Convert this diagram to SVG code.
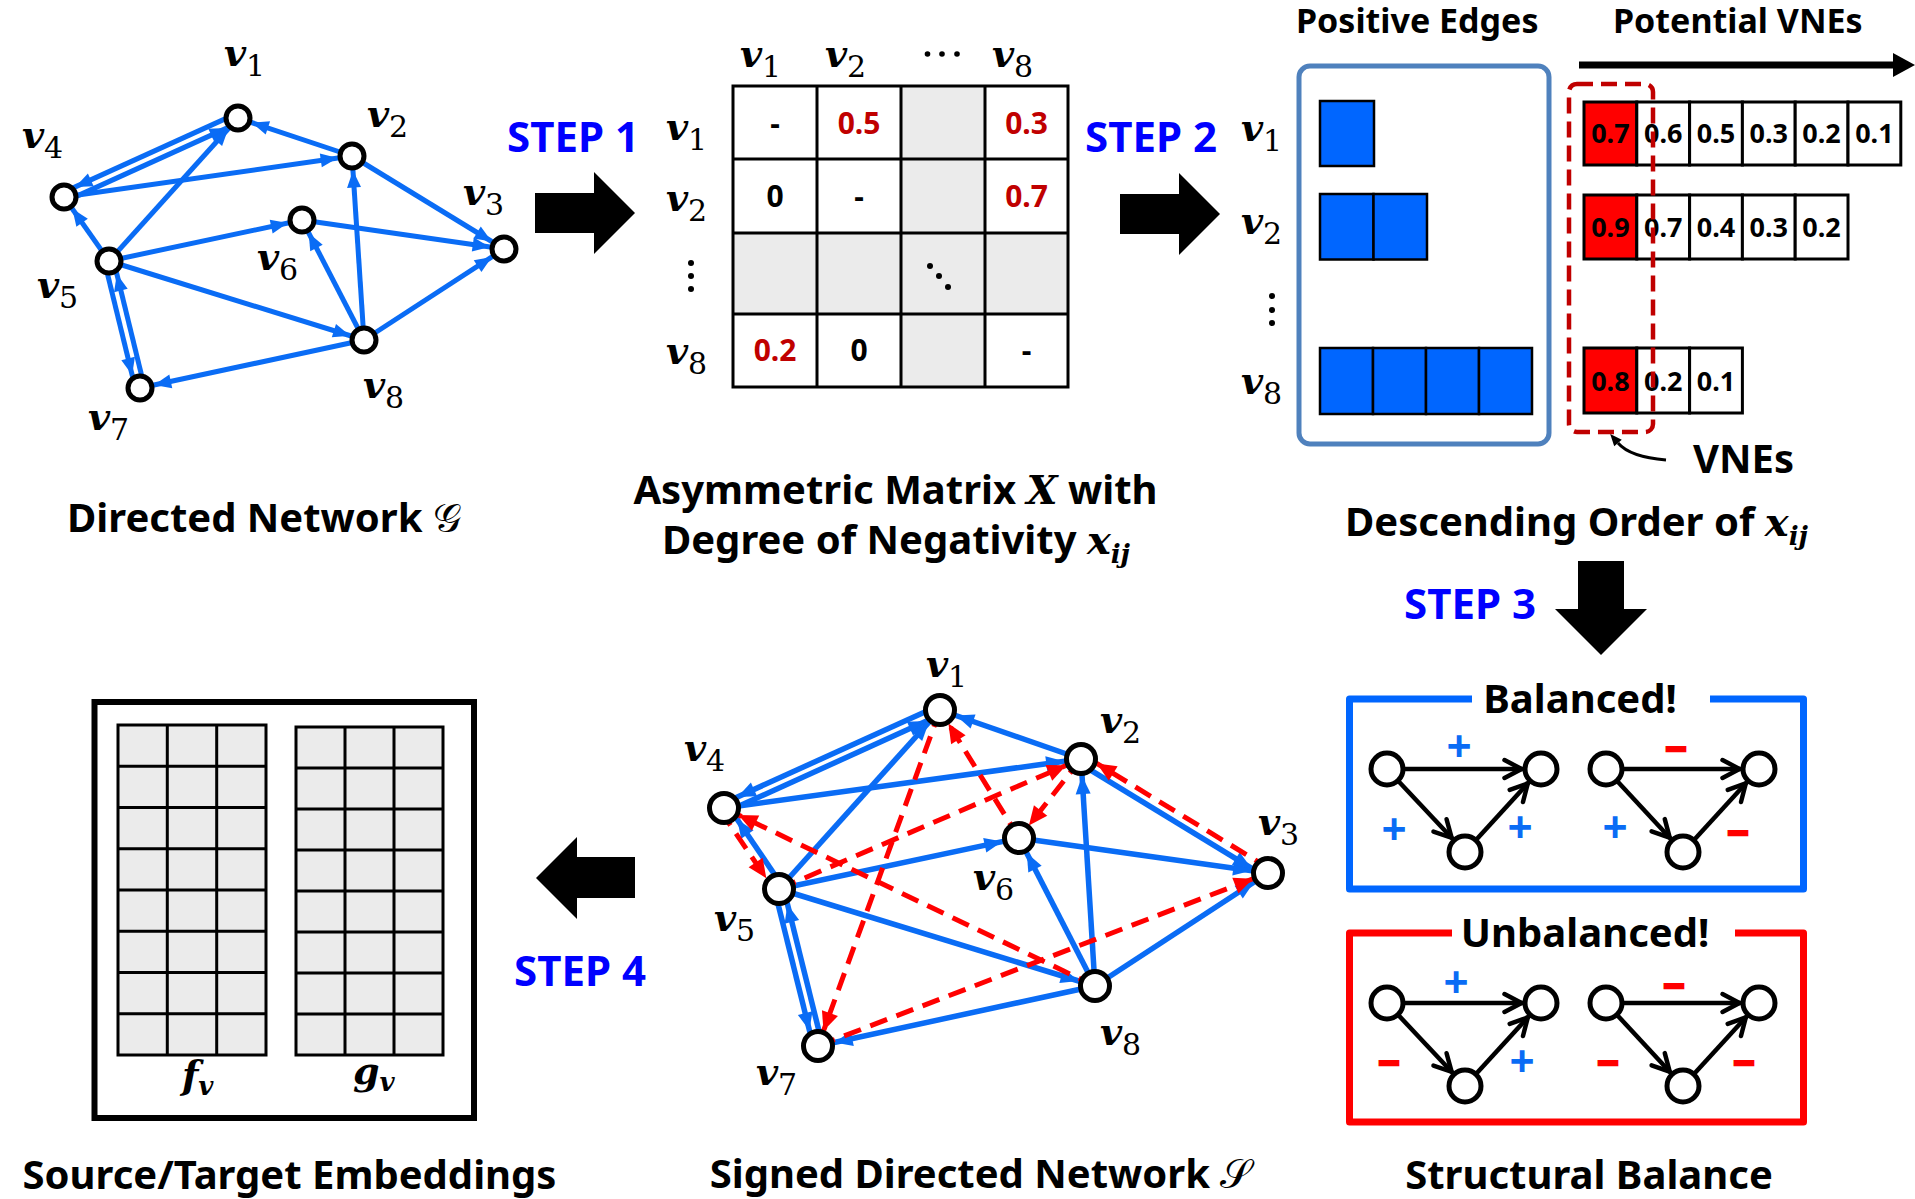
<svg xmlns="http://www.w3.org/2000/svg" width="1915" height="1199" viewBox="0 0 1915 1199">
  <style>
    .cap{font-family:"Noto Sans","Open Sans","Liberation Sans",sans-serif;font-weight:700;font-size:40px;fill:#000}
    .hdr{font-family:"Noto Sans","Open Sans","Liberation Sans",sans-serif;font-weight:700;font-size:34px;fill:#000}
    .step{font-family:"Noto Sans","Open Sans","Liberation Sans",sans-serif;font-weight:700;font-size:42px;fill:#0000ff}
    .m{font-family:"DejaVu Serif","Liberation Serif",serif;font-style:italic;font-weight:700;font-size:38px;fill:#000}
    .mi{font-family:"DejaVu Serif","Liberation Serif",serif;font-style:italic;font-weight:700}
    .scr{font-family:"DejaVu Sans","DejaVu Serif",serif;font-style:normal;font-weight:400}
    .s{font-style:normal;font-weight:400;font-size:30px}
    .node{fill:#fff;stroke:#000;stroke-width:5}
    .tnode{fill:#fff;stroke:#000;stroke-width:5}
    .eb{fill:none;stroke:#0a6cf5;stroke-width:5}
    .eb2{fill:none;stroke:#0a6cf5;stroke-width:5.5}
    .er{fill:none;stroke:#ff0000;stroke-width:5;stroke-dasharray:18 10}
    .ek{fill:none;stroke:#000;stroke-width:4.5}
    .grid{fill:none;stroke:#000;stroke-width:3}
    .gray{fill:#ebebeb}
    .val{font-family:"Noto Sans","Open Sans","Liberation Sans",sans-serif;font-weight:700;font-size:30px;text-anchor:middle;fill:#000}
    .red{fill:#c00000}
    .vne{font-family:"Noto Sans","Open Sans","Liberation Sans",sans-serif;font-weight:700;font-size:27px;text-anchor:middle;fill:#000}
    .cell{stroke:#000;stroke-width:3;fill:#fff}
    .hot{fill:#ff0000}
    .pos{fill:#0066ff;stroke:#000;stroke-width:2.5}
    .emb{fill:#ebebeb;stroke:#000;stroke-width:3}
    .plus{font-family:"Noto Sans","Open Sans","Liberation Sans",sans-serif;font-weight:700;font-size:44px;text-anchor:middle;fill:#0a6cf5}
    .minus{font-family:"Noto Sans","Open Sans","Liberation Sans",sans-serif;font-weight:700;font-size:30px;text-anchor:middle;fill:#ff0000;stroke:#ff0000;stroke-width:2.6}
    .dot{fill:#000}
  </style>
  <defs>
    <marker id="ab1" markerUnits="userSpaceOnUse" markerWidth="17" markerHeight="14" refX="31.5" refY="7" orient="auto" overflow="visible">
      <path d="M0,0 L17,7 L0,14 z" fill="#0a6cf5"/>
    </marker>
    <marker id="ab2" markerUnits="userSpaceOnUse" markerWidth="18" markerHeight="15" refX="35" refY="7.5" orient="auto" overflow="visible">
      <path d="M0,0 L18,7.5 L0,15 z" fill="#0a6cf5"/>
    </marker>
    <marker id="ar" markerUnits="userSpaceOnUse" markerWidth="19" markerHeight="17" refX="35" refY="8.5" orient="auto" overflow="visible">
      <path d="M0,0 L19,8.5 L0,17 z" fill="#ff0000"/>
    </marker>
    <marker id="chev" markerUnits="userSpaceOnUse" markerWidth="20" markerHeight="20" refX="36.5" refY="10" orient="auto" overflow="visible">
      <path d="M0,1 L17,10 L0,19" fill="none" stroke="#000" stroke-width="4.5" stroke-linecap="round"/>
    </marker>
    <marker id="ak" markerUnits="userSpaceOnUse" markerWidth="12" markerHeight="10" refX="0" refY="5" orient="auto" overflow="visible">
      <path d="M0,0 L12,5 L0,10 z" fill="#000"/>
    </marker>
  </defs>

  <rect width="1915" height="1199" fill="#fff"/>

  <!-- Directed network G -->
  <g id="connectors-directed">
    <path class="eb" marker-end="url(#ab1)" d="M352,156 L238,118"/>
    <path class="eb" marker-end="url(#ab1)" d="M236.1,113.9 L62.1,192.9"/>
    <path class="eb" marker-end="url(#ab1)" d="M65.9,201.1 L239.9,122.1"/>
    <path class="eb" marker-end="url(#ab1)" d="M64,197 L352,156"/>
    <path class="eb" marker-end="url(#ab1)" d="M109,261 L64,197"/>
    <path class="eb" marker-end="url(#ab1)" d="M109,261 L238,118"/>
    <path class="eb" marker-end="url(#ab1)" d="M109,261 L302,220"/>
    <path class="eb" marker-end="url(#ab1)" d="M109,261 L364,340"/>
    <path class="eb" marker-end="url(#ab1)" d="M104.6,262.1 L135.6,389.1"/>
    <path class="eb" marker-end="url(#ab1)" d="M144.4,386.9 L113.4,259.9"/>
    <path class="eb" marker-end="url(#ab1)" d="M364,340 L140,388"/>
    <path class="eb" marker-end="url(#ab1)" d="M364,340 L302,220"/>
    <path class="eb" marker-end="url(#ab1)" d="M364,340 L352,156"/>
    <path class="eb" marker-end="url(#ab1)" d="M364,340 L504,249"/>
    <path class="eb" marker-end="url(#ab1)" d="M302,220 L504,249"/>
    <path class="eb" marker-end="url(#ab1)" d="M352,156 L504,249"/>
  </g>
  <g id="g-v1"><circle class="node" cx="238" cy="118" r="12"/><text class="m" x="224" y="66">v<tspan class="s" dy="10">1</tspan></text></g>
  <g id="g-v2"><circle class="node" cx="352" cy="156" r="12"/><text class="m" x="367" y="127">v<tspan class="s" dy="10">2</tspan></text></g>
  <g id="g-v3"><circle class="node" cx="504" cy="249" r="12"/><text class="m" x="463" y="205">v<tspan class="s" dy="10">3</tspan></text></g>
  <g id="g-v4"><circle class="node" cx="64" cy="197" r="12"/><text class="m" x="22" y="148">v<tspan class="s" dy="10">4</tspan></text></g>
  <g id="g-v5"><circle class="node" cx="109" cy="261" r="12"/><text class="m" x="37" y="298">v<tspan class="s" dy="10">5</tspan></text></g>
  <g id="g-v6"><circle class="node" cx="302" cy="220" r="12"/><text class="m" x="257" y="270">v<tspan class="s" dy="10">6</tspan></text></g>
  <g id="g-v7"><circle class="node" cx="140" cy="388" r="12"/><text class="m" x="88" y="430">v<tspan class="s" dy="10">7</tspan></text></g>
  <g id="g-v8"><circle class="node" cx="364" cy="340" r="12"/><text class="m" x="363" y="398">v<tspan class="s" dy="10">8</tspan></text></g>
  <text class="cap" x="264" y="532" text-anchor="middle">Directed Network <tspan class="scr">𝒢</tspan></text>

  <!-- Step arrows and labels -->
  <g id="step1">
    <text class="step" x="507" y="152">STEP 1</text>
    <polygon points="535,193 594,193 594,172 635,213 594,254 594,233 535,233" fill="#000"/>
  </g>
  <g id="step2">
    <text class="step" x="1085" y="152">STEP 2</text>
    <polygon points="1120,194 1179,194 1179,173 1220,214 1179,255 1179,234 1120,234" fill="#000"/>
  </g>
  <g id="step3">
    <text class="step" x="1404" y="619">STEP 3</text>
    <polygon points="1578,561 1624,561 1624,609 1647,609 1601,655 1555,609 1578,609" fill="#000"/>
  </g>
  <g id="step4">
    <text class="step" x="514" y="986">STEP 4</text>
    <polygon points="635,857 577,857 577,837 536,878 577,919 577,898 635,898" fill="#000"/>
  </g>

  <!-- Asymmetric matrix X -->
  <g id="matrix">
    <rect class="gray" x="901" y="86" width="84" height="301"/>
    <rect class="gray" x="733" y="233" width="335" height="81"/>
    <rect class="grid" x="733" y="86" width="335" height="301"/>
    <path class="grid" d="M817,86 V387 M901,86 V387 M985,86 V387 M733,159 H1068 M733,233 H1068 M733,314 H1068"/>
    <text class="val" x="775" y="134">-</text>
    <text class="val red" x="859" y="134">0.5</text>
    <text class="val red" x="1026.5" y="134">0.3</text>
    <text class="val" x="775" y="207">0</text>
    <text class="val" x="859" y="207">-</text>
    <text class="val red" x="1026.5" y="207">0.7</text>
    <text class="val red" x="775" y="361">0.2</text>
    <text class="val" x="859" y="361">0</text>
    <text class="val" x="1026.5" y="361">-</text>
    <circle class="dot" cx="930" cy="266" r="3"/>
    <circle class="dot" cx="939" cy="276" r="3"/>
    <circle class="dot" cx="948" cy="287" r="3"/>
    <text class="m" x="740" y="67">v<tspan class="s" dy="10">1</tspan></text>
    <text class="m" x="825" y="67">v<tspan class="s" dy="10">2</tspan></text>
    <circle class="dot" cx="927.5" cy="54" r="2.8"/>
    <circle class="dot" cx="942" cy="54" r="2.8"/>
    <circle class="dot" cx="957" cy="54" r="2.8"/>
    <text class="m" x="992" y="67">v<tspan class="s" dy="10">8</tspan></text>
    <text class="m" x="666" y="140">v<tspan class="s" dy="10">1</tspan></text>
    <text class="m" x="666" y="211">v<tspan class="s" dy="10">2</tspan></text>
    <circle class="dot" cx="691" cy="263" r="3"/>
    <circle class="dot" cx="691" cy="276" r="3"/>
    <circle class="dot" cx="691" cy="289" r="3"/>
    <text class="m" x="666" y="364">v<tspan class="s" dy="10">8</tspan></text>
    <text class="cap" x="895.5" y="504" text-anchor="middle">Asymmetric Matrix <tspan class="mi">X</tspan> with</text>
    <text class="cap" x="896" y="554" text-anchor="middle">Degree of Negativity <tspan class="mi">x</tspan><tspan class="mi" font-size="26" dy="9">ij</tspan></text>
  </g>

  <!-- Positive edges and potential VNEs -->
  <g id="positive-edges">
    <text class="hdr" x="1296" y="33">Positive Edges</text>
    <rect x="1299" y="66" width="250" height="378" rx="11" fill="none" stroke="#4f81bd" stroke-width="5"/>
    <rect class="pos" x="1320" y="101" width="54" height="65"/>
    <rect class="pos" x="1320" y="194" width="53.5" height="65.5"/>
    <rect class="pos" x="1373.5" y="194" width="53.5" height="65.5"/>
    <rect class="pos" x="1320" y="348" width="53" height="66"/>
    <rect class="pos" x="1373" y="348" width="53" height="66"/>
    <rect class="pos" x="1426" y="348" width="53" height="66"/>
    <rect class="pos" x="1479" y="348" width="53" height="66"/>
    <text class="m" x="1241" y="141">v<tspan class="s" dy="10">1</tspan></text>
    <text class="m" x="1241" y="234">v<tspan class="s" dy="10">2</tspan></text>
    <circle class="dot" cx="1272" cy="296" r="3"/>
    <circle class="dot" cx="1272" cy="310" r="3"/>
    <circle class="dot" cx="1272" cy="323" r="3"/>
    <text class="m" x="1241" y="394">v<tspan class="s" dy="10">8</tspan></text>
  </g>
  <g id="potential-vnes">
    <text class="hdr" x="1613" y="33">Potential VNEs</text>
    <line x1="1579" y1="65" x2="1896" y2="65" stroke="#000" stroke-width="7"/>
    <polygon points="1893,53 1915,65 1893,77" fill="#000"/>
    <!-- row v1 -->
    <rect class="cell hot" x="1584" y="102" width="52.8" height="63"/>
    <rect class="cell" x="1636.8" y="102" width="52.8" height="63"/>
    <rect class="cell" x="1689.6" y="102" width="52.8" height="63"/>
    <rect class="cell" x="1742.4" y="102" width="52.8" height="63"/>
    <rect class="cell" x="1795.2" y="102" width="52.8" height="63"/>
    <rect class="cell" x="1848" y="102" width="52.8" height="63"/>
    <text class="vne" x="1610.4" y="143">0.7</text>
    <text class="vne" x="1663.2" y="143">0.6</text>
    <text class="vne" x="1716" y="143">0.5</text>
    <text class="vne" x="1768.8" y="143">0.3</text>
    <text class="vne" x="1821.6" y="143">0.2</text>
    <text class="vne" x="1874.4" y="143">0.1</text>
    <!-- row v2 -->
    <rect class="cell hot" x="1584" y="195" width="52.8" height="64"/>
    <rect class="cell" x="1636.8" y="195" width="52.8" height="64"/>
    <rect class="cell" x="1689.6" y="195" width="52.8" height="64"/>
    <rect class="cell" x="1742.4" y="195" width="52.8" height="64"/>
    <rect class="cell" x="1795.2" y="195" width="52.8" height="64"/>
    <text class="vne" x="1610.4" y="237">0.9</text>
    <text class="vne" x="1663.2" y="237">0.7</text>
    <text class="vne" x="1716" y="237">0.4</text>
    <text class="vne" x="1768.8" y="237">0.3</text>
    <text class="vne" x="1821.6" y="237">0.2</text>
    <!-- row v8 -->
    <rect class="cell hot" x="1584" y="348" width="52.8" height="65"/>
    <rect class="cell" x="1636.8" y="348" width="52.8" height="65"/>
    <rect class="cell" x="1689.6" y="348" width="52.8" height="65"/>
    <text class="vne" x="1610.4" y="391">0.8</text>
    <text class="vne" x="1663.2" y="391">0.2</text>
    <text class="vne" x="1716" y="391">0.1</text>
    <!-- selected VNEs -->
    <rect x="1569" y="84" width="84" height="348" rx="8" fill="none" stroke="#c00000" stroke-width="4.5" stroke-dasharray="16 8"/>
    <path d="M1666,460 Q1630,457 1618,443" fill="none" stroke="#000" stroke-width="3" marker-end="url(#ak)"/>
    <text class="cap" x="1693" y="473" font-size="37">VNEs</text>
    <text class="cap" x="1576.5" y="536" font-size="41" text-anchor="middle">Descending Order of <tspan class="mi">x</tspan><tspan class="mi" font-size="26" dy="9">ij</tspan></text>
  </g>

  <!-- Structural balance -->
  <g id="balanced">
    <path d="M1472,699 H1349.5 V889 H1803.5 V699 H1710" fill="none" stroke="#0066ff" stroke-width="7" stroke-linejoin="round"/>
    <text class="cap" x="1580" y="713" font-size="36" text-anchor="middle">Balanced!</text>
    <g id="triad-b1">
      <path class="ek" marker-end="url(#chev)" d="M1387,769 L1541,769"/>
      <path class="ek" marker-end="url(#chev)" d="M1387,769 L1465,852"/>
      <path class="ek" marker-end="url(#chev)" d="M1465,852 L1541,769"/>
      <circle class="tnode" cx="1387" cy="769" r="16"/>
      <circle class="tnode" cx="1541" cy="769" r="16"/>
      <circle class="tnode" cx="1465" cy="852" r="16"/>
      <text class="plus" x="1459" y="762">+</text>
      <text class="plus" x="1394" y="845">+</text>
      <text class="plus" x="1520" y="843">+</text>
    </g>
    <g id="triad-b2">
      <path class="ek" marker-end="url(#chev)" d="M1606,769 L1759,769"/>
      <path class="ek" marker-end="url(#chev)" d="M1606,769 L1683,852"/>
      <path class="ek" marker-end="url(#chev)" d="M1683,852 L1759,769"/>
      <circle class="tnode" cx="1606" cy="769" r="16"/>
      <circle class="tnode" cx="1759" cy="769" r="16"/>
      <circle class="tnode" cx="1683" cy="852" r="16"/>
      <text class="minus" x="1676" y="757" textLength="19" lengthAdjust="spacingAndGlyphs">-</text>
      <text class="plus" x="1615" y="843">+</text>
      <text class="minus" x="1738" y="841" textLength="19" lengthAdjust="spacingAndGlyphs">-</text>
    </g>
  </g>
  <g id="unbalanced">
    <path d="M1452,933 H1349.5 V1122 H1803.5 V933 H1735" fill="none" stroke="#ff0000" stroke-width="7" stroke-linejoin="round"/>
    <text class="cap" x="1585" y="947" font-size="36" text-anchor="middle">Unbalanced!</text>
    <g id="triad-u1">
      <path class="ek" marker-end="url(#chev)" d="M1387,1003 L1541,1003"/>
      <path class="ek" marker-end="url(#chev)" d="M1387,1003 L1465,1086"/>
      <path class="ek" marker-end="url(#chev)" d="M1465,1086 L1541,1003"/>
      <circle class="tnode" cx="1387" cy="1003" r="16"/>
      <circle class="tnode" cx="1541" cy="1003" r="16"/>
      <circle class="tnode" cx="1465" cy="1086" r="16"/>
      <text class="plus" x="1456" y="998">+</text>
      <text class="minus" x="1389" y="1071" textLength="19" lengthAdjust="spacingAndGlyphs">-</text>
      <text class="plus" x="1522" y="1077">+</text>
    </g>
    <g id="triad-u2">
      <path class="ek" marker-end="url(#chev)" d="M1606,1003 L1759,1003"/>
      <path class="ek" marker-end="url(#chev)" d="M1606,1003 L1683,1086"/>
      <path class="ek" marker-end="url(#chev)" d="M1683,1086 L1759,1003"/>
      <circle class="tnode" cx="1606" cy="1003" r="16"/>
      <circle class="tnode" cx="1759" cy="1003" r="16"/>
      <circle class="tnode" cx="1683" cy="1086" r="16"/>
      <text class="minus" x="1674" y="994" textLength="19" lengthAdjust="spacingAndGlyphs">-</text>
      <text class="minus" x="1608" y="1071" textLength="19" lengthAdjust="spacingAndGlyphs">-</text>
      <text class="minus" x="1744" y="1071" textLength="19" lengthAdjust="spacingAndGlyphs">-</text>
    </g>
  </g>
  <text class="cap" x="1589" y="1189" text-anchor="middle">Structural Balance</text>

  <!-- Signed directed network S -->
  <g id="connectors-signed">
    <path class="eb2" marker-end="url(#ab2)" d="M1081,759 L940,710"/>
    <path class="eb2" marker-end="url(#ab2)" d="M938.1,705.9 L722.1,803.9"/>
    <path class="eb2" marker-end="url(#ab2)" d="M725.9,812.1 L941.9,714.1"/>
    <path class="eb2" marker-end="url(#ab2)" d="M724,808 L1081,759"/>
    <path class="eb2" marker-end="url(#ab2)" d="M782.7,886.5 L727.7,805.5"/>
    <path class="eb2" marker-end="url(#ab2)" d="M779,889 L940,710"/>
    <path class="eb2" marker-end="url(#ab2)" d="M779,889 L1019,838"/>
    <path class="eb2" marker-end="url(#ab2)" d="M779,889 L1095,986"/>
    <path class="eb2" marker-end="url(#ab2)" d="M774.6,890.1 L813.6,1047.1"/>
    <path class="eb2" marker-end="url(#ab2)" d="M822.4,1044.9 L783.4,887.9"/>
    <path class="eb2" marker-end="url(#ab2)" d="M1095,986 L818,1046"/>
    <path class="eb2" marker-end="url(#ab2)" d="M1095,986 L1019,838"/>
    <path class="eb2" marker-end="url(#ab2)" d="M1095,986 L1081,759"/>
    <path class="eb2" marker-end="url(#ab2)" d="M1095,986 L1268,873"/>
    <path class="eb2" marker-end="url(#ab2)" d="M1019,838 L1268,873"/>
    <path class="eb2" marker-end="url(#ab2)" d="M1078.7,762.8 L1265.7,876.8"/>
    <path class="er" marker-end="url(#ar)" d="M940,710 L818,1046"/>
    <path class="er" marker-end="url(#ar)" d="M1019,838 L940,710"/>
    <path class="er" marker-end="url(#ar)" d="M1081,759 L1019,838"/>
    <path class="er" marker-end="url(#ar)" d="M1270.3,869.2 L1083.3,755.2"/>
    <path class="er" marker-end="url(#ar)" d="M779,889 L1081,759"/>
    <path class="er" marker-end="url(#ar)" d="M1095,986 L724,808"/>
    <path class="er" marker-end="url(#ar)" d="M720.3,810.5 L775.3,891.5"/>
    <path class="er" marker-end="url(#ar)" d="M818,1046 L1268,873"/>
  </g>
  <g id="s-v1"><circle class="node" cx="940" cy="710" r="14.5"/><text class="m" x="926" y="677">v<tspan class="s" dy="10">1</tspan></text></g>
  <g id="s-v2"><circle class="node" cx="1081" cy="759" r="14.5"/><text class="m" x="1100" y="733">v<tspan class="s" dy="10">2</tspan></text></g>
  <g id="s-v3"><circle class="node" cx="1268" cy="873" r="14.5"/><text class="m" x="1258" y="835">v<tspan class="s" dy="10">3</tspan></text></g>
  <g id="s-v4"><circle class="node" cx="724" cy="808" r="14.5"/><text class="m" x="684" y="761">v<tspan class="s" dy="10">4</tspan></text></g>
  <g id="s-v5"><circle class="node" cx="779" cy="889" r="14.5"/><text class="m" x="714" y="931">v<tspan class="s" dy="10">5</tspan></text></g>
  <g id="s-v6"><circle class="node" cx="1019" cy="838" r="14.5"/><text class="m" x="973" y="890">v<tspan class="s" dy="10">6</tspan></text></g>
  <g id="s-v7"><circle class="node" cx="818" cy="1046" r="14.5"/><text class="m" x="756" y="1085">v<tspan class="s" dy="10">7</tspan></text></g>
  <g id="s-v8"><circle class="node" cx="1095" cy="986" r="14.5"/><text class="m" x="1100" y="1045">v<tspan class="s" dy="10">8</tspan></text></g>
  <text class="cap" x="980.5" y="1188" text-anchor="middle">Signed Directed Network <tspan class="scr">𝒮</tspan></text>

  <!-- Source / target embeddings -->
  <g id="embeddings">
    <rect x="94.5" y="702" width="379.5" height="416" fill="none" stroke="#000" stroke-width="6"/>
    <g id="emb-f">
      <rect class="emb" x="118" y="725" width="148" height="330"/>
      <path class="grid" d="M167.3,725 V1055 M216.7,725 V1055 M118,766.25 H266 M118,807.5 H266 M118,848.75 H266 M118,890 H266 M118,931.25 H266 M118,972.5 H266 M118,1013.75 H266"/>
      <text class="m" x="182" y="1088">f<tspan font-size="26" dy="7">v</tspan></text>
    </g>
    <g id="emb-g">
      <rect class="emb" x="296" y="727" width="147" height="328"/>
      <path class="grid" d="M345,727 V1055 M394,727 V1055 M296,768 H443 M296,809 H443 M296,850 H443 M296,891 H443 M296,932 H443 M296,973 H443 M296,1014 H443"/>
      <text class="m" x="353" y="1084">g<tspan font-size="26" dy="7">v</tspan></text>
    </g>
  </g>
  <text class="cap" x="289.5" y="1189" text-anchor="middle">Source/Target Embeddings</text>
</svg>
